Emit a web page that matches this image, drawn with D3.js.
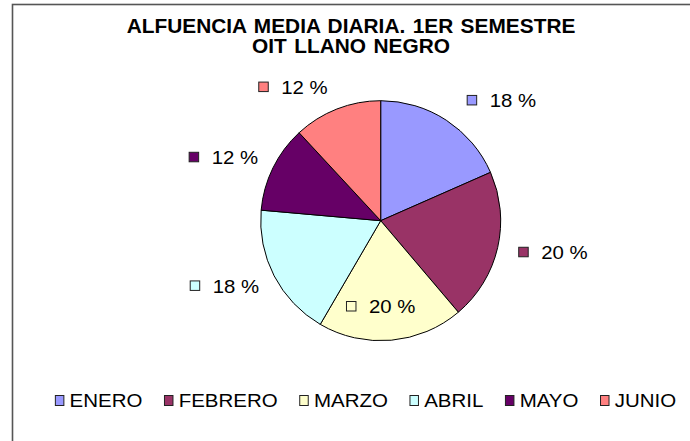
<!DOCTYPE html>
<html>
<head>
<meta charset="utf-8">
<title>Alfuencia media diaria</title>
<style>
  body { margin: 0; background: #fff; }
  text { font-family: "Liberation Sans", Arial, sans-serif; fill: #000; }
</style>
</head>
<body>
<script src="https://cdn.jsdelivr.net/npm/d3@7/dist/d3.min.js"></script>
<script>
// datos
const meses = ["ENERO", "FEBRERO", "MARZO", "ABRIL", "MAYO", "JUNIO"];
const afluencia = [18.4, 20.4, 19.6, 18.0, 11.7, 11.9];
const colores = ["#9999ff", "#993366", "#ffffcc", "#ccffff", "#660066", "#ff8080"];
const titulo = ["ALFUENCIA MEDIA DIARIA. 1ER SEMESTRE", "OIT LLANO NEGRO"];

const width = 690, height = 441;
const cx = 380.7, cy = 220.7, radius = 120;
const labelH = 16, plotBottom = 315;
const sx = 1.12; // el texto del original esta algo estirado

const svg = d3.select("body").append("svg")
    .attr("width", width)
    .attr("height", height);

// marco del area del grafico
svg.append("rect")
    .attr("x", 12.5).attr("y", 4.5)
    .attr("width", 720).attr("height", 460)
    .attr("fill", "#fff")
    .attr("stroke", "#555")
    .attr("stroke-width", 1.6);

// titulo
titulo.forEach((t, i) => {
    svg.append("g")
        .attr("transform", `translate(351,${33 + i * 20.3}) scale(1.07,1)`)
        .append("text")
        .attr("text-anchor", "middle")
        .attr("font-size", 19.5)
        .attr("font-weight", "bold")
        .attr("word-spacing", 1.5)
        .text(t);
});

const total = d3.sum(afluencia);
const pie = d3.pie().sort(null).value(d => d);
const arcs = pie(afluencia);
const arc = d3.arc().innerRadius(0).outerRadius(radius);

const g = svg.append("g").attr("transform", `translate(${cx},${cy})`);

g.selectAll("path")
    .data(arcs)
    .join("path")
    .attr("d", arc)
    .attr("fill", (d, i) => colores[i])
    .attr("stroke", "#000")
    .attr("stroke-width", 1);

// etiquetas de datos con su clave
arcs.forEach((d, i) => {
    const a = (d.startAngle + d.endAngle) / 2;
    const s = Math.sin(a), c = Math.cos(a);
    const lab = svg.append("g");
    lab.append("rect")
        .attr("x", 0.5).attr("y", -5.5)
        .attr("width", 9.5).attr("height", 9.5)
        .attr("fill", colores[i])
        .attr("stroke", "#222")
        .attr("stroke-width", 1);
    const tg = lab.append("g").attr("transform", `translate(23,6.3) scale(${sx},1)`);
    const txt = tg.append("text")
        .attr("font-size", 18.2)
        .text(Math.round(d.value / total * 100) + " %");
    const w = 23 + txt.node().getComputedTextLength() * sx;

    const rx = 136 + 20 * c * c, ry = 135;
    const px = cx + rx * s;
    let left = Math.abs(s) < 0.2 ? px - w / 2 : (s > 0 ? px + 4 : px - w + 3);
    let midY = cy - ry * c - labelH * c / 2;
    if (midY + labelH / 2 > plotBottom) {
        // no cabe debajo: se mete dentro del sector
        midY = plotBottom - labelH / 2;
        left = cx - w / 2;
    }
    lab.attr("transform", `translate(${left},${midY})`);
});

// leyenda
const leg = svg.append("g");
let x = 0;
meses.forEach((m, i) => {
    const item = leg.append("g").attr("transform", `translate(${x},0)`);
    item.append("rect")
        .attr("x", 0.5).attr("y", 395.5)
        .attr("width", 8.5).attr("height", 10)
        .attr("fill", colores[i])
        .attr("stroke", "#222")
        .attr("stroke-width", 1);
    const tt = item.append("g").attr("transform", `translate(14.7,406.5) scale(${sx},1)`)
        .append("text")
        .attr("font-size", 18.3)
        .text(m);
    x += 14.7 + tt.node().getComputedTextLength() * sx + (i < meses.length - 1 ? 21.6 : 0);
});
leg.attr("transform", `translate(${365.5 - x / 2},0)`);
</script>
</body>
</html>
